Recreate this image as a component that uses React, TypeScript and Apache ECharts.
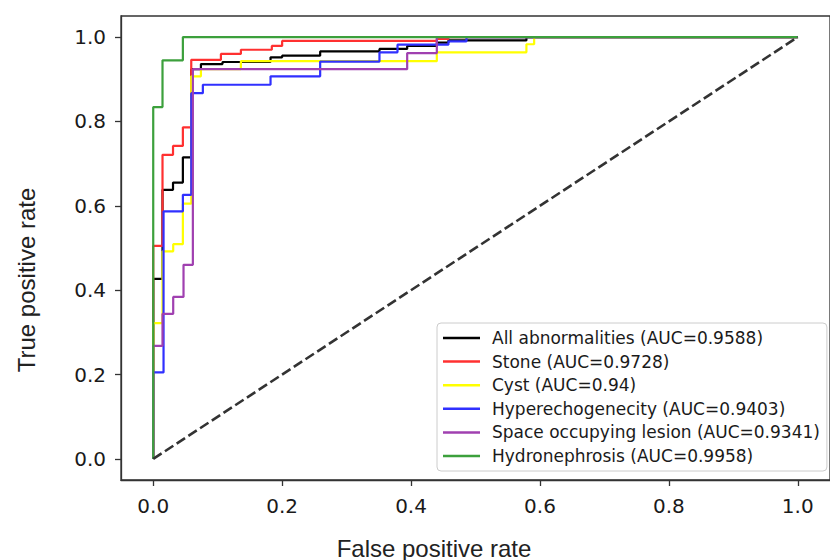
import React, { useEffect, useRef } from "react";
import * as echarts from "echarts";

const seriesNames = [
  "All abnormalities (AUC=0.9588)",
  "Stone (AUC=0.9728)",
  "Cyst (AUC=0.94)",
  "Hyperechogenecity (AUC=0.9403)",
  "Space occupying lesion (AUC=0.9341)",
  "Hydronephrosis (AUC=0.9958)",
];
const seriesColors = ["#000000", "#ff3030", "#ffff00", "#3030ff", "#a040b0", "#3ca03c"];

const allFpr = [0, 0, 0.0144, 0.0307, 0.046, 0.059, 0.074, 0.1075, 0.182, 0.2, 0.259, 0.351, 0.394, 0.44, 0.458, 0.579, 1];
const allTpr = [0, 0.427, 0.638, 0.655, 0.715, 0.924, 0.936, 0.941, 0.952, 0.956, 0.966, 0.972, 0.979, 0.987, 0.992, 1, 1];

const stoneFpr = [0, 0, 0.0144, 0.0307, 0.046, 0.059, 0.105, 0.136, 0.184, 0.2, 0.44, 0.458, 1];
const stoneTpr = [0, 0.505, 0.721, 0.742, 0.786, 0.946, 0.96, 0.97, 0.979, 0.991, 0.996, 1, 1];

const cystFpr = [0, 0, 0.0144, 0.031, 0.046, 0.059, 0.074, 0.136, 0.44, 0.579, 0.591, 1];
const cystTpr = [0, 0.322, 0.492, 0.509, 0.605, 0.907, 0.924, 0.943, 0.964, 0.983, 1, 1];

const hyperFpr = [0, 0, 0.016, 0.046, 0.059, 0.077, 0.182, 0.259, 0.351, 0.379, 0.458, 0.486, 1];
const hyperTpr = [0, 0.205, 0.587, 0.626, 0.867, 0.887, 0.907, 0.942, 0.964, 0.982, 0.99, 1, 1];

const spaceFpr = [0, 0, 0.0144, 0.031, 0.047, 0.0615, 0.394, 0.44, 1];
const spaceTpr = [0, 0.268, 0.344, 0.384, 0.46, 0.924, 0.962, 1, 1];

const hydroFpr = [0, 0, 0.0144, 0.046, 1];
const hydroTpr = [0, 0.834, 0.945, 1, 1];

const chanceFpr = [0, 1];
const chanceTpr = [0, 1];

const tickValues = [0, 0.2, 0.4, 0.6, 0.8, 1.0];

const curves = [
  [allFpr, allTpr],
  [stoneFpr, stoneTpr],
  [cystFpr, cystTpr],
  [hyperFpr, hyperTpr],
  [spaceFpr, spaceTpr],
  [hydroFpr, hydroTpr],
];

const zip = (xs: number[], ys: number[]) => xs.map((x, i) => [x, ys[i]]);

export default function App() {
  const ref = useRef<HTMLDivElement>(null);
  useEffect(() => {
    if (!ref.current) return;
    const chart = echarts.init(ref.current, null, { renderer: "svg" });
    const axisCommon = {
      type: "value",
      min: -0.05,
      max: 1.05,
      splitLine: { show: false },
      axisLine: { show: true, onZero: false, lineStyle: { color: "#333", width: 1.3 } },
      axisTick: { show: true, length: 6, customValues: tickValues, lineStyle: { color: "#333", width: 1.3 } },
      axisLabel: {
        customValues: tickValues,
        formatter: (v: number) => v.toFixed(1),
        fontFamily: "DejaVu Sans",
        fontSize: 20,
        color: "#1a1a1a",
      },
    };
    chart.setOption({
      animation: false,
      backgroundColor: "#ffffff",
      grid: {
        left: 121,
        top: 16,
        width: 716,
        height: 464,
        show: true,
        borderColor: "#333",
        borderWidth: 1.3,
        backgroundColor: "transparent",
      },
      xAxis: { ...axisCommon, axisLabel: { ...axisCommon.axisLabel, margin: 16 } },
      yAxis: { ...axisCommon, axisLabel: { ...axisCommon.axisLabel, margin: 15 } },
      legend: {
        orient: "vertical",
        left: 437,
        top: 323,
        padding: [5, 7, 5, 6],
        itemWidth: 37,
        itemHeight: 2.5,
        itemGap: 3.6,
        icon: "rect",
        data: seriesNames,
        borderColor: "#cccccc",
        borderWidth: 1,
        borderRadius: 4,
        backgroundColor: "rgba(255,255,255,0.85)",
        textStyle: {
          fontFamily: "DejaVu Sans",
          fontSize: 17,
          color: "#1a1a1a",
          lineHeight: 20,
          padding: [0, 0, 0, 7],
        },
      },
      graphic: [
        {
          type: "text",
          x: 26,
          y: 280,
          rotation: Math.PI / 2,
          style: {
            text: "True positive rate",
            font: "24px 'Liberation Sans'",
            fill: "#222",
            textAlign: "center",
            textVerticalAlign: "middle",
          },
        },
        {
          type: "text",
          x: 434,
          y: 548,
          style: {
            text: "False positive rate",
            font: "24px 'Liberation Sans'",
            fill: "#222",
            textAlign: "center",
            textVerticalAlign: "middle",
          },
        },
      ],
      series: [
        ...curves.map((c, i) => ({
          name: seriesNames[i],
          type: "line",
          step: "end",
          symbol: "none",
          data: zip(c[0], c[1]),
          lineStyle: { color: seriesColors[i], width: 2.2 },
          itemStyle: { color: seriesColors[i] },
          z: 2 + i,
        })),
        {
          name: "chance",
          type: "line",
          symbol: "none",
          data: zip(chanceFpr, chanceTpr),
          lineStyle: { color: "#333333", width: 2.6, type: [10, 4] },
          z: 10,
        },
      ],
    });
    return () => chart.dispose();
  }, []);
  return (
    <div
      ref={ref}
      style={{ position: "fixed", left: 0, top: 0, width: 830, height: 560, background: "#fff" }}
    />
  );
}
